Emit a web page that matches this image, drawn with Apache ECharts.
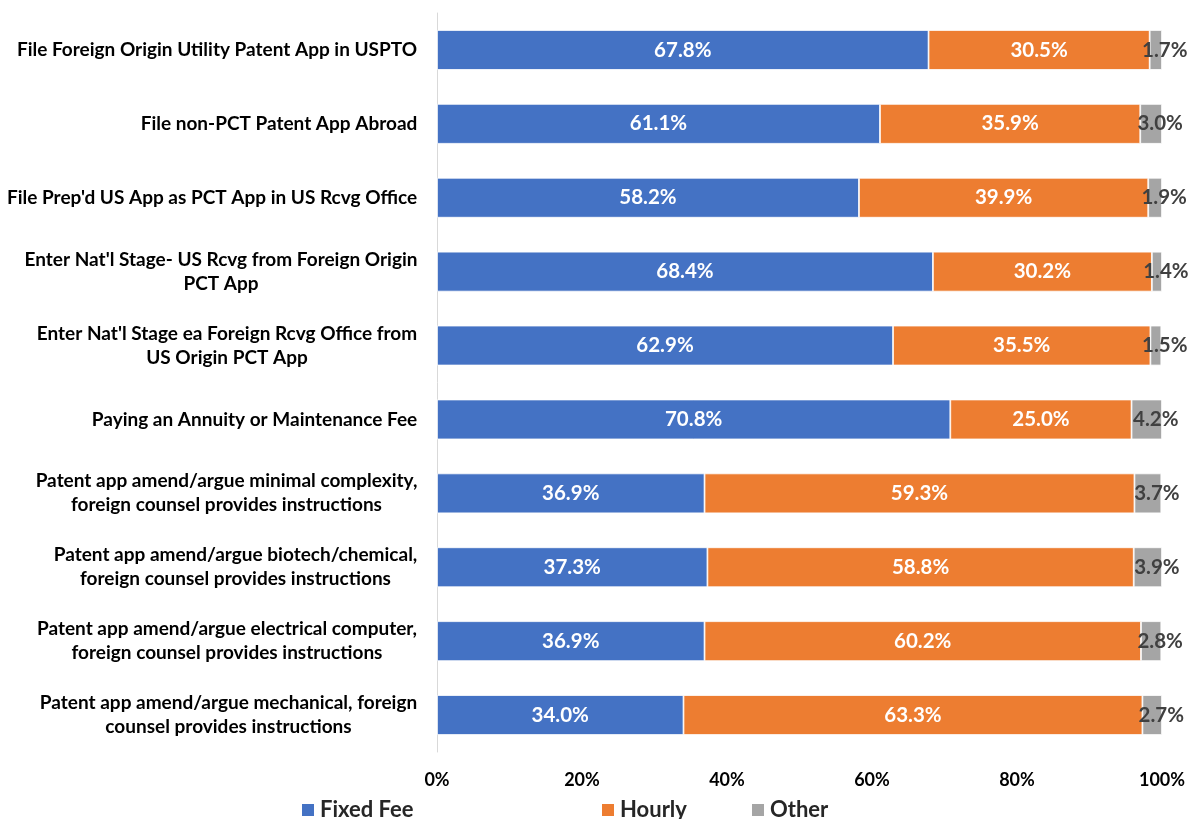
<!DOCTYPE html>
<html>
<head>
<meta charset="utf-8">
<script src="https://cdn.jsdelivr.net/npm/echarts@6/dist/echarts.min.js"></script>
<style>
  html, body { margin: 0; padding: 0; background: #fff; }
  #chart { width: 1191px; height: 819px; }
</style>
</head>
<body>
<div id="chart"></div>
<script>
const categories = [
  "File Foreign Origin Utility Patent App in USPTO",
  "File non-PCT Patent App Abroad",
  "File Prep'd US App as PCT App in US Rcvg Office",
  "Enter Nat'l Stage- US Rcvg from Foreign Origin\nPCT App",
  "Enter Nat'l Stage ea Foreign Rcvg Office from\nUS Origin PCT App",
  "Paying an Annuity or Maintenance Fee",
  "Patent app amend/argue minimal complexity,\nforeign counsel provides instructions",
  "Patent app amend/argue biotech/chemical,\nforeign counsel provides instructions",
  "Patent app amend/argue electrical computer,\nforeign counsel provides instructions",
  "Patent app amend/argue mechanical, foreign\ncounsel provides instructions"
];
const fixedFee = [67.8, 61.1, 58.2, 68.4, 62.9, 70.8, 36.9, 37.3, 36.9, 34.0];
const hourly   = [30.5, 35.9, 39.9, 30.2, 35.5, 25.0, 59.3, 58.8, 60.2, 63.3];
const other    = [1.7, 3.0, 1.9, 1.4, 1.5, 4.2, 3.7, 3.9, 2.8, 2.7];
const seriesNames = ['Fixed Fee', 'Hourly', 'Other'];
const xTicks = [0, 20, 40, 60, 80, 100];

const FONT = 'Lato, "Open Sans", sans-serif';
const CAT_FONT_SIZE = 19;
const chart = echarts.init(document.getElementById('chart'));

const pct = p => p.value.toFixed(1) + '%';

// Wrapped category names: block right-aligned to the axis, lines centred within the block.
const measureCtx = document.createElement('canvas').getContext('2d');
measureCtx.font = 'bold ' + CAT_FONT_SIZE + 'px ' + FONT;
const catRich = {};
const catKey = {};
categories.forEach((c, i) => {
  const w = Math.max(...c.split('\n').map(l => measureCtx.measureText(l).width));
  catKey[c] = 'c' + i;
  catRich['c' + i] = {
    width: Math.ceil(w) + 1,
    align: 'center',
    fontFamily: FONT,
    fontWeight: 'bold',
    fontSize: CAT_FONT_SIZE,
    color: '#000',
    lineHeight: 24
  };
});
const catFormatter = v => v.split('\n').map(l => '{' + catKey[v] + '|' + l + '}').join('\n');

function barSeries(name, data, color, labelColor, labelExtra) {
  return {
    name: name,
    type: 'bar',
    stack: 'total',
    data: data,
    barWidth: '54%',
    itemStyle: { color: color, borderColor: '#ffffff', borderWidth: 0.8 },
    label: Object.assign({
      show: true,
      position: 'inside',
      formatter: pct,
      color: labelColor,
      fontFamily: FONT,
      fontWeight: 'bold',
      fontSize: 20.5
    }, labelExtra || {}),
    emphasis: { disabled: true }
  };
}

// one legend box per series so each entry sits at its own x position
const legendLefts = [300, 600, 750];
const legends = seriesNames.map((n, i) => ({
  data: [n],
  left: legendLefts[i],
  top: 799,
  padding: 0,
  itemWidth: 14,
  itemHeight: 14,
  itemGap: 6,
  icon: 'rect',
  selectedMode: false,
  textStyle: { fontFamily: FONT, fontWeight: 'bold', fontSize: 22, color: '#262626' }
}));

chart.setOption({
  animation: false,
  textStyle: { fontFamily: FONT },
  grid: { left: 437, right: 29, top: 13, bottom: 67, containLabel: false },
  legend: legends,
  xAxis: {
    type: 'value',
    min: xTicks[0],
    max: xTicks[xTicks.length - 1],
    interval: 20,
    axisLine: { show: false },
    axisTick: { show: false },
    splitLine: { show: false },
    axisLabel: {
      formatter: v => v + '%',
      fontFamily: FONT,
      fontWeight: 'bold',
      fontSize: 18,
      color: '#000',
      margin: 19
    }
  },
  yAxis: {
    type: 'category',
    inverse: true,
    data: categories,
    axisLine: { show: true, lineStyle: { color: '#d9d9d9', width: 1 } },
    axisTick: { show: false },
    axisLabel: {
      formatter: catFormatter,
      rich: catRich,
      fontFamily: FONT,
      fontWeight: 'bold',
      fontSize: CAT_FONT_SIZE,
      color: '#000',
      lineHeight: 24,
      margin: 19,
      align: 'right'
    }
  },
  series: [
    barSeries('Fixed Fee', fixedFee, '#4472C4', '#ffffff'),
    barSeries('Hourly', hourly, '#ED7D31', '#ffffff'),
    barSeries('Other', other, '#A5A5A5', '#404040', { offset: [9, 0] })
  ]
});
</script>
</body>
</html>
